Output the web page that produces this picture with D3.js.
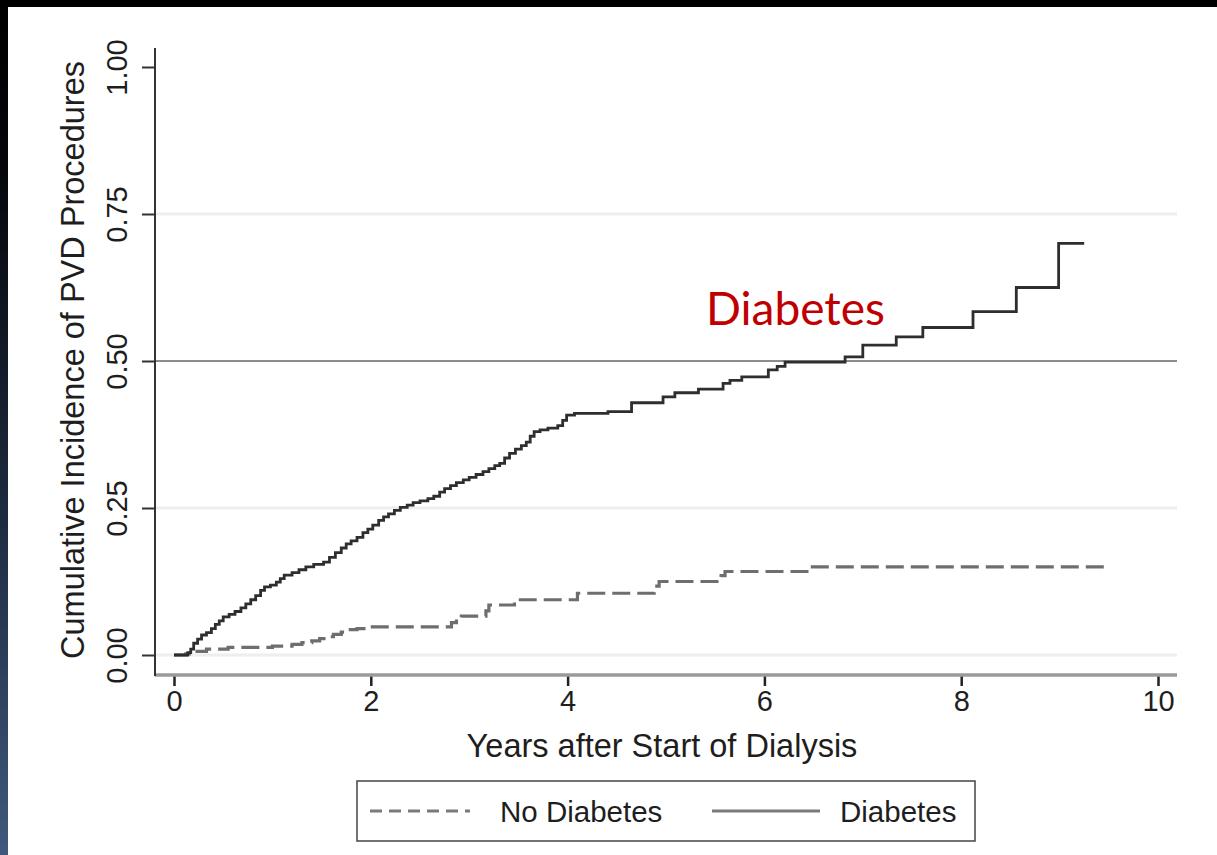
<!DOCTYPE html>
<html>
<head>
<meta charset="utf-8">
<script src="https://cdn.jsdelivr.net/npm/d3@7"></script>
<style>
  body { margin: 0; background: #000; }
  svg { display: block; }
</style>
</head>
<body>
<div id="chart"></div>
<script>
// tick labels and reference values
var yearTicks = [0, 2, 4, 6, 8, 10];
var incidenceTicks = [0, 0.25, 0.5, 0.75, 1];
var gridTicks = [0, 0.25, 0.75];
var refLines = [0.5];
var seriesNames = ["No Diabetes", "Diabetes"];

// cumulative incidence, [years, value], step after each time
var noDiabetes = [
  [0, 0], [0.12, 0.002], [0.2, 0.006], [0.33, 0.010], [0.55, 0.013], [1.0, 0.015],
  [1.2, 0.018], [1.3, 0.021], [1.4, 0.024], [1.48, 0.028], [1.55, 0.031], [1.62, 0.035],
  [1.7, 0.039], [1.76, 0.043], [1.86, 0.045], [1.95, 0.048], [2.82, 0.055], [2.87, 0.062],
  [2.92, 0.066], [3.17, 0.075], [3.2, 0.085], [3.46, 0.091], [3.52, 0.094], [4.1, 0.105],
  [4.88, 0.117], [4.93, 0.125], [5.56, 0.135], [5.6, 0.142], [6.46, 0.150], [9.5, 0.150]
];

var diabetes = [
  [0, 0], [0.14, 0.004], [0.17, 0.010], [0.2, 0.020], [0.24, 0.027], [0.28, 0.034],
  [0.33, 0.038], [0.38, 0.045], [0.42, 0.052], [0.46, 0.058], [0.5, 0.065], [0.56, 0.069],
  [0.62, 0.074], [0.68, 0.080], [0.73, 0.087], [0.78, 0.094], [0.83, 0.101], [0.88, 0.110],
  [0.92, 0.116], [0.98, 0.119], [1.04, 0.124], [1.08, 0.130], [1.12, 0.136], [1.2, 0.140],
  [1.27, 0.145], [1.34, 0.150], [1.42, 0.154], [1.52, 0.158], [1.58, 0.166], [1.64, 0.174],
  [1.7, 0.182], [1.75, 0.189], [1.8, 0.194], [1.86, 0.200], [1.92, 0.208], [1.97, 0.214],
  [2.02, 0.221], [2.08, 0.229], [2.13, 0.235], [2.18, 0.240], [2.24, 0.246], [2.3, 0.251],
  [2.37, 0.255], [2.43, 0.259], [2.5, 0.262], [2.58, 0.266], [2.64, 0.270], [2.7, 0.277],
  [2.75, 0.283], [2.81, 0.288], [2.87, 0.293], [2.94, 0.298], [3.0, 0.302], [3.07, 0.307],
  [3.14, 0.312], [3.2, 0.317], [3.26, 0.322], [3.31, 0.326], [3.36, 0.335], [3.41, 0.343],
  [3.47, 0.350], [3.53, 0.356], [3.58, 0.362], [3.62, 0.372], [3.66, 0.380], [3.72, 0.383],
  [3.8, 0.386], [3.9, 0.390], [3.95, 0.399], [3.99, 0.408], [4.07, 0.411], [4.41, 0.414],
  [4.65, 0.429], [4.97, 0.439], [5.09, 0.446], [5.33, 0.452], [5.58, 0.462], [5.65, 0.467],
  [5.77, 0.473], [6.04, 0.485], [6.13, 0.491], [6.21, 0.498], [6.82, 0.507], [7.0, 0.527],
  [7.34, 0.541], [7.61, 0.557], [8.12, 0.584], [8.56, 0.625], [8.99, 0.700], [9.25, 0.700]
];

var width = 1217,
    height = 855;

var svg = d3.select("#chart").append("svg")
    .attr("width", width)
    .attr("height", height);

// backdrop: black frame, bluish strip on the left, white slide
var defs = svg.append("defs");
var grad = defs.append("linearGradient")
    .attr("id", "edge")
    .attr("x1", 0).attr("y1", 0).attr("x2", 0).attr("y2", 1);
grad.append("stop").attr("offset", "0%").attr("stop-color", "#000");
grad.append("stop").attr("offset", "20%").attr("stop-color", "#05070c");
grad.append("stop").attr("offset", "60%").attr("stop-color", "#1d2b40");
grad.append("stop").attr("offset", "100%").attr("stop-color", "#40597c");

svg.append("rect").attr("width", width).attr("height", height).attr("fill", "#000");
svg.append("rect").attr("x", 0).attr("y", 0).attr("width", 8).attr("height", height).attr("fill", "url(#edge)");
svg.append("rect").attr("x", 8).attr("y", 7).attr("width", width - 8).attr("height", height - 7).attr("fill", "#fff");

// scales
var x = d3.scaleLinear().domain([0, 10]).range([174, 1158]);
var y = d3.scaleLinear().domain([0, 1]).range([655, 67]);

var plotLeft = 155,
    plotRight = 1177,
    plotTop = 48,
    plotBottom = 675;

var axisFont = "'Liberation Sans', Arial, sans-serif";

// light grid lines
svg.selectAll(".grid")
    .data(gridTicks)
    .enter().append("line")
    .attr("class", "grid")
    .attr("x1", plotLeft).attr("x2", plotRight)
    .attr("y1", function (d) { return y(d); })
    .attr("y2", function (d) { return y(d); })
    .attr("stroke", "#eeeeee")
    .attr("stroke-width", 3);

// reference line at 0.50
svg.selectAll(".ref")
    .data(refLines)
    .enter().append("line")
    .attr("class", "ref")
    .attr("x1", plotLeft).attr("x2", plotRight)
    .attr("y1", function (d) { return y(d); })
    .attr("y2", function (d) { return y(d); })
    .attr("stroke", "#8c8c8c")
    .attr("stroke-width", 2);

// curves
var line = d3.line()
    .curve(d3.curveStepAfter)
    .x(function (d) { return x(d[0]); })
    .y(function (d) { return y(d[1]); });

svg.append("path")
    .datum(noDiabetes)
    .attr("d", line)
    .attr("fill", "none")
    .attr("stroke", "#6e6e6e")
    .attr("stroke-width", 3.2)
    .attr("stroke-dasharray", "18,7");

svg.append("path")
    .datum(diabetes)
    .attr("d", line)
    .attr("fill", "none")
    .attr("stroke", "#2e2e2e")
    .attr("stroke-width", 2.8);

// axes
var xAxis = svg.append("g")
    .attr("transform", "translate(0," + plotBottom + ")")
    .call(d3.axisBottom(x).tickValues(yearTicks).tickSize(11).tickSizeOuter(0)
        .tickFormat(d3.format("d")));
xAxis.select(".domain").remove();
xAxis.selectAll(".tick line").attr("stroke", "#222").attr("stroke-width", 2.5);
xAxis.selectAll(".tick text")
    .attr("y", 36).attr("dy", 0)
    .attr("fill", "#1e1e1e")
    .style("font-family", axisFont)
    .style("font-size", "29px");

var yAxis = svg.append("g")
    .attr("transform", "translate(" + plotLeft + ",0)")
    .call(d3.axisLeft(y).tickValues(incidenceTicks).tickSize(13).tickSizeOuter(0)
        .tickFormat(d3.format(".2f")));
yAxis.select(".domain").remove();
yAxis.selectAll(".tick line").attr("stroke", "#333").attr("stroke-width", 2);
yAxis.selectAll(".tick text")
    .attr("transform", "rotate(-90)")
    .attr("x", 0).attr("y", -28).attr("dy", 0)
    .attr("text-anchor", "middle")
    .attr("fill", "#1e1e1e")
    .style("font-family", axisFont)
    .style("font-size", "29px");

// axis lines
svg.append("line")
    .attr("x1", plotLeft).attr("x2", plotRight)
    .attr("y1", plotBottom).attr("y2", plotBottom)
    .attr("stroke", "#9a9a9a").attr("stroke-width", 3.5);
svg.append("line")
    .attr("x1", plotLeft).attr("x2", plotLeft)
    .attr("y1", plotTop).attr("y2", plotBottom + 1)
    .attr("stroke", "#333").attr("stroke-width", 2);

// axis titles
svg.append("text")
    .attr("x", 662)
    .attr("y", 757)
    .attr("text-anchor", "middle")
    .attr("fill", "#1e1e1e")
    .style("font-family", axisFont)
    .style("font-size", "32.5px")
    .text("Years after Start of Dialysis");

svg.append("text")
    .attr("transform", "translate(84,360) rotate(-90)")
    .attr("text-anchor", "middle")
    .attr("fill", "#1e1e1e")
    .style("font-family", axisFont)
    .style("font-size", "32.5px")
    .text("Cumulative Incidence of PVD Procedures");

// annotation
svg.append("text")
    .attr("x", 706)
    .attr("y", 325)
    .attr("fill", "#c00000")
    .style("font-family", "Lato, 'Open Sans', sans-serif")
    .style("font-size", "46px")
    .text("Diabetes");

// legend
var legend = svg.append("g");
legend.append("rect")
    .attr("x", 357).attr("y", 781)
    .attr("width", 618).attr("height", 60)
    .attr("fill", "#fff")
    .attr("stroke", "#444")
    .attr("stroke-width", 1.5);

var legendItems = [
    { name: seriesNames[0], x0: 370, x1: 470, tx: 500, dash: "12,7" },
    { name: seriesNames[1], x0: 712, x1: 820, tx: 840, dash: null }
];

legend.selectAll(".sample")
    .data(legendItems)
    .enter().append("line")
    .attr("class", "sample")
    .attr("x1", function (d) { return d.x0; })
    .attr("x2", function (d) { return d.x1; })
    .attr("y1", 811).attr("y2", 811)
    .attr("stroke", "#7a7a7a")
    .attr("stroke-width", 3.2)
    .attr("stroke-dasharray", function (d) { return d.dash; });

legend.selectAll(".label")
    .data(legendItems)
    .enter().append("text")
    .attr("class", "label")
    .attr("x", function (d) { return d.tx; })
    .attr("y", 822)
    .attr("fill", "#1e1e1e")
    .style("font-family", axisFont)
    .style("font-size", "29.5px")
    .text(function (d) { return d.name; });
</script>
</body>
</html>
